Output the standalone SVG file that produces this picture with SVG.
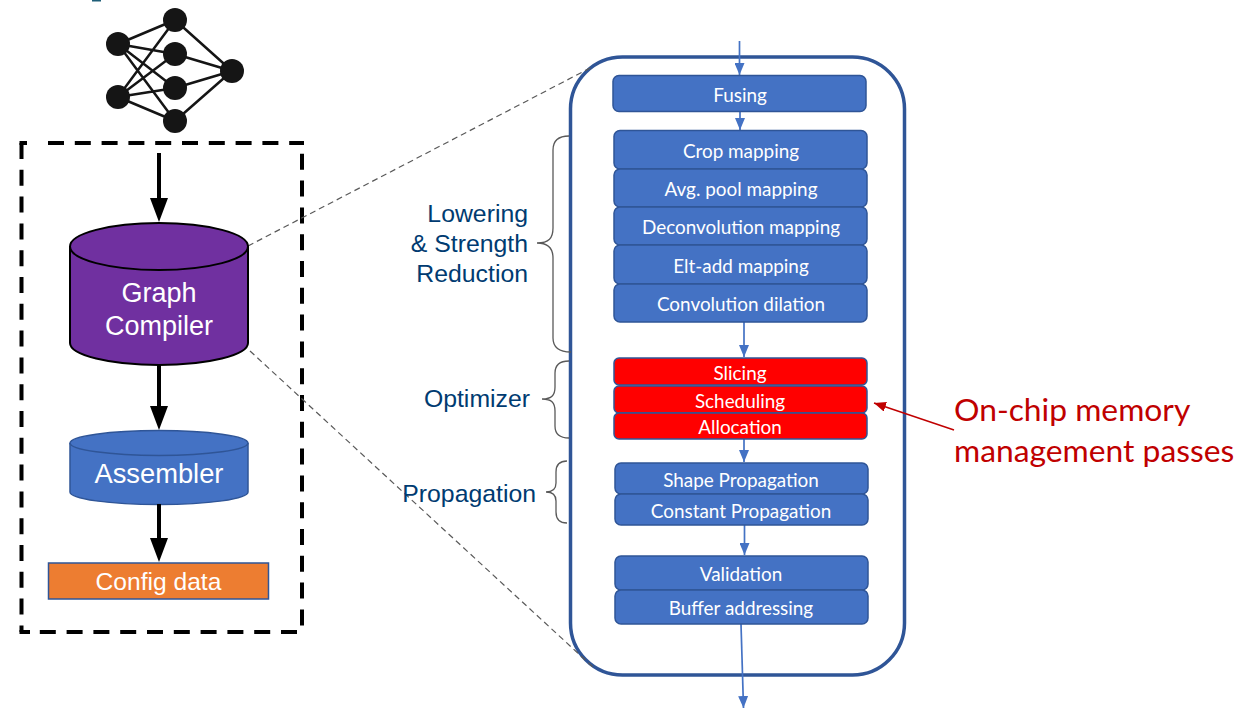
<svg xmlns="http://www.w3.org/2000/svg" width="1244" height="714" viewBox="0 0 1244 714">
<style>
.b{fill:#4472C4;stroke:#2F5597;stroke-width:1.5}
.r{fill:#FF0000;stroke:#2F5597;stroke-width:1.5}
.t{font-family:Lato,"Liberation Sans",sans-serif;font-size:18.9px;fill:#fff;text-anchor:middle}
.a{font-family:"Liberation Sans",Arial,sans-serif;fill:#fff;text-anchor:middle}
.l{font-family:"Liberation Sans",Arial,sans-serif;font-size:24.8px;fill:#003B71;text-anchor:end}
.k{stroke:#000;stroke-width:4;fill:none}
.n{stroke:#151515;stroke-width:2.5;fill:none}
.f{stroke:#4472C4;stroke-width:1.7;fill:none}
.g{stroke:#595959;stroke-width:1.3;fill:none}
.d{stroke:#595959;stroke-width:1.2;stroke-dasharray:6 4;fill:none}
.x{fill:none;stroke:#000;stroke-width:4;stroke-dasharray:16 10.8}
.c{font-family:Lato,"Liberation Sans",sans-serif;font-size:31.8px;fill:#C00000}
</style>
<defs>
<marker id="ah" markerUnits="userSpaceOnUse" markerWidth="26" markerHeight="20" refX="0" refY="9" orient="auto" overflow="visible"><path d="M0 0L24 9L0 18Z" fill="#000"/></marker>
<marker id="bh" markerUnits="userSpaceOnUse" markerWidth="13" markerHeight="10" refX="12" refY="5" orient="auto"><path d="M0 0L12 5L0 10Z" fill="#4472C4"/></marker>
<marker id="rh" markerUnits="userSpaceOnUse" markerWidth="13" markerHeight="10" refX="12" refY="5" orient="auto"><path d="M0 0L12 5L0 10Z" fill="#C00000"/></marker>
</defs>
<rect width="1244" height="714" fill="#fff"/>
<rect x="92" y="0" width="9" height="1.500" fill="#1F5F78"/>

<g id="network">
<path class="n" d="M118 44L175 20M118 44L175 54M118 44L175 88M118 44L175 121M118 97L175 20M118 97L175 54M118 97L175 88M118 97L175 121M175 20L232 71M175 54L232 71M175 88L232 71M175 121L232 71"/>
<g fill="#151515"><circle cx="118" cy="44" r="12"/><circle cx="118" cy="97" r="12"/><circle cx="175" cy="20" r="12"/><circle cx="175" cy="54" r="12"/><circle cx="175" cy="88" r="12"/><circle cx="175" cy="121" r="12"/><circle cx="232" cy="71" r="12"/></g>
</g>
<g id="compiler-box">
<path class="x" d="M21.500 143V632"/>
<path d="M19.500 143H27M19.500 632H30" fill="none" stroke="#000" stroke-width="4"/>
<path class="x" d="M48 143H304"/>
<path class="x" d="M302 143V626" stroke-dashoffset="16"/>
<path class="x" d="M297 632H21"/>
</g>

<g id="outer-panel"><rect x="570.500" y="57" width="334" height="618" rx="52" fill="none" stroke="#2F5597" stroke-width="3.500"/></g>

<g id="zoom-lines">
<path class="d" d="M248 246L594 66"/>
<path class="d" d="M250 351L594 668"/>
</g>

<g id="graph-compiler">
<path d="M70 246.500V343C70 355 110 365 159 365S248 355 248 343V246.500" fill="#7030A0" stroke="#000" stroke-width="2"/>
<ellipse cx="159" cy="246.500" rx="89" ry="23.500" fill="#7030A0" stroke="#000" stroke-width="2"/>
<text class="a" font-size="27" x="159" y="302">Graph</text>
<text class="a" font-size="27" x="159" y="335">Compiler</text>
</g>
<g id="assembler">
<path d="M70 443V492C70 499 110 504.500 159 504.500S248 499 248 492V443" class="b"/>
<ellipse cx="159" cy="443" rx="89" ry="12.500" class="b"/>
<text class="a" font-size="27.300" x="159" y="483">Assembler</text>
</g>
<g id="config-data">
<rect x="48.500" y="563" width="220" height="36" fill="#ED7D31" stroke="#2F5597" stroke-width="1.500"/>
<text class="a" font-size="24.600" x="158.500" y="590">Config data</text>
</g>

<g id="connectors">
<path class="k" d="M159 153V198" marker-end="url(#ah)"/>
<path class="k" d="M159 365V406" marker-end="url(#ah)"/>
<path class="k" d="M159 504V538" marker-end="url(#ah)"/>
<path class="f" d="M739.500 41V75" marker-end="url(#bh)"/>
<path class="f" d="M740 111V130" marker-end="url(#bh)"/>
<path class="f" d="M744 322V357" marker-end="url(#bh)"/>
<path class="f" d="M744 439V462" marker-end="url(#bh)"/>
<path class="f" d="M744.500 525V555" marker-end="url(#bh)"/>
<path class="f" d="M741 624L743.500 708" marker-end="url(#bh)"/>
<path d="M954 430L874 403" fill="none" stroke="#C00000" stroke-width="1.500" marker-end="url(#rh)"/>
</g>

<g id="fusing"><rect class="b" x="613" y="75.500" width="253" height="36" rx="6"/><text class="t" x="740" y="102">Fusing</text></g>
<g id="crop-mapping"><rect class="b" x="614" y="130.500" width="253" height="38.500" rx="6"/><text class="t" x="741" y="158">Crop mapping</text></g>
<g id="avg-pool-mapping"><rect class="b" x="614" y="169" width="253" height="38" rx="6"/><text class="t" x="741" y="196">Avg. pool mapping</text></g>
<g id="deconvolution-mapping"><rect class="b" x="614" y="207" width="253" height="38" rx="6"/><text class="t" x="741" y="234">Deconvolution mapping</text></g>
<g id="elt-add-mapping"><rect class="b" x="614" y="245" width="253" height="39" rx="6"/><text class="t" x="741" y="273">Elt-add mapping</text></g>
<g id="convolution-dilation"><rect class="b" x="614" y="284" width="253" height="38" rx="6"/><text class="t" x="741" y="311">Convolution dilation</text></g>
<g id="slicing"><rect class="r" x="614" y="358" width="253" height="27" rx="5"/><text class="t" x="740" y="380">Slicing</text></g>
<g id="scheduling"><rect class="r" x="614" y="386" width="253" height="27" rx="5"/><text class="t" x="740" y="408">Scheduling</text></g>
<g id="allocation"><rect class="r" x="614" y="413" width="253" height="26" rx="5"/><text class="t" x="740" y="434">Allocation</text></g>
<g id="shape-propagation"><rect class="b" x="615" y="463" width="253" height="31" rx="6"/><text class="t" x="741" y="487">Shape Propagation</text></g>
<g id="constant-propagation"><rect class="b" x="615" y="494" width="253" height="31" rx="6"/><text class="t" x="741" y="518">Constant Propagation</text></g>
<g id="validation"><rect class="b" x="615" y="556" width="253" height="34" rx="6"/><text class="t" x="741" y="581">Validation</text></g>
<g id="buffer-addressing"><rect class="b" x="615" y="590" width="253" height="34" rx="6"/><text class="t" x="741" y="615">Buffer addressing</text></g>

<g id="braces">
<path class="g" d="M569 136C559 136 553 140 553 150V228C553 238 549 243 537 243C549 243 553 249 553 258V338C553 347 559 352 571 352"/>
<path class="g" d="M569 361C560 361 555 365 555 373V387C555 395 552 399 542 399C552 399 555 403 555 411V426C555 434 560 438 569 438"/>
<path class="g" d="M567 461C560 461 556 465 556 472V483C556 489 553 492 546 492C553 492 556 495 556 501V512C556 519 560 523 567 523"/>
</g>

<g id="labels">
<text class="l" x="528" y="222">Lowering</text>
<text class="l" x="528" y="252">&amp; Strength</text>
<text class="l" x="528" y="282">Reduction</text>
<text class="l" x="530" y="407">Optimizer</text>
<text class="l" x="536" y="502">Propagation</text>
<text class="c" x="954" y="421">On-chip memory</text>
<text class="c" x="954" y="462">management passes</text>
</g>
</svg>
